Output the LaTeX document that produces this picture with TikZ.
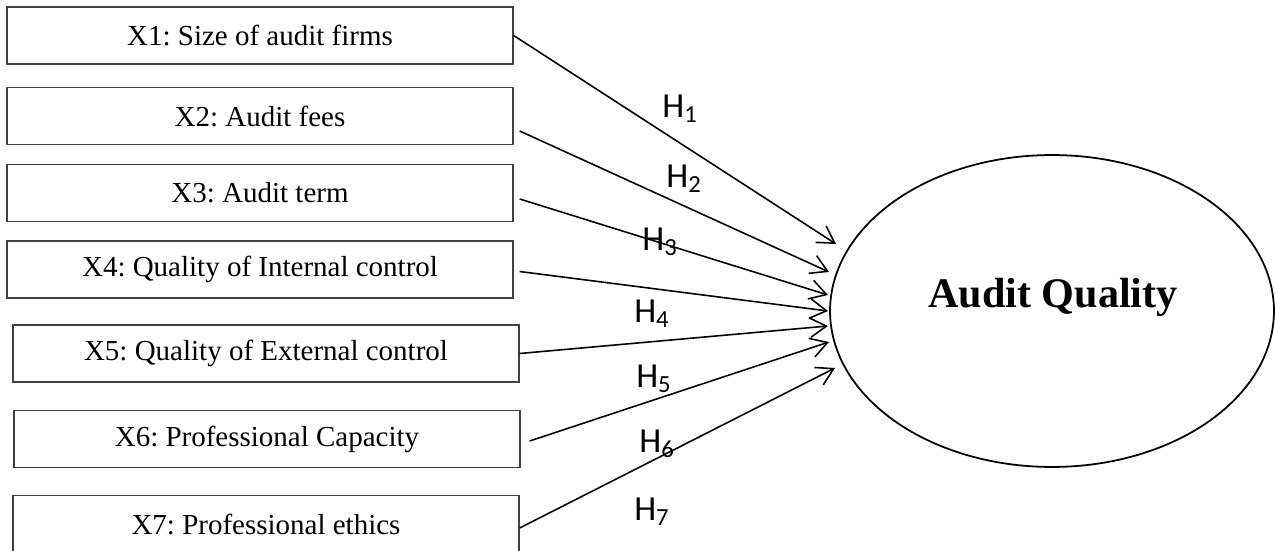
\documentclass[tikz,border=0pt]{standalone}
\usepackage{fontspec}
\setmainfont{Liberation Serif}
\newfontfamily\hfont{Carlito}
\usetikzlibrary{shapes.geometric,arrows.meta}
\frenchspacing

\begin{document}
\begin{tikzpicture}[x=0.02cm,y=-0.02cm,
  varbox/.style={draw=black!75,line width=0.8pt,minimum width=10.12cm,minimum height=1.14cm,inner sep=0pt,font=\fontsize{16.5}{19}\selectfont},
  hyp/.style={line width=0.9pt,-{Straight Barb[length=3.3mm,width=3.9mm]}},
  hlabel/.style={anchor=base west,inner sep=0pt,font=\hfont\fontsize{20}{24}\selectfont}]
\clip (0,0) rectangle (1275,551);
%variables
\node[varbox] (b1) at (260,35.5) {X1: Size of audit firms};
\node[varbox] (b2) at (260,116) {X2: Audit fees};
\node[varbox] (b3) at (260,193) {X3: Audit term};
\node[varbox] (b4) at (260,269.5) {X4: Quality of Internal control};
\node[varbox] (b5) at (266,353.5) {X5: Quality of External control};
\node[varbox] (b6) at (267,439) {X6: Professional Capacity};
\node[varbox] (b7) at (266,524) {X7: Professional ethics};
%audit quality
\node[draw,ellipse,line width=1pt,minimum width=8.88cm,minimum height=6.24cm,inner sep=0pt] (aq) at (1052,311) {};
\node[font=\bfseries\fontsize{24}{28}\selectfont] (aqtext) at (1053,297) {Audit Quality};
%arrow tips
\coordinate (t1) at (836,244);
\coordinate (t2) at (829,272);
\coordinate (t3) at (828,295);
\coordinate (t4) at (828,311);
\coordinate (t5) at (828,326);
\coordinate (t6) at (829,342);
\coordinate (t7) at (835,368);
%hypotheses
\draw[hyp] (b1.east) -- (t1);
\draw[hyp] ([shift={(6,15)}]b2.east) -- (t2);
\draw[hyp] ([shift={(6,6)}]b3.east) -- (t3);
\draw[hyp] ([shift={(6,2)}]b4.east) -- (t4);
\draw[hyp] (b5.east) -- (t5);
\draw[hyp] ([shift={(9,2)}]b6.east) -- (t6);
\draw[hyp] ([shift={(0,4)}]b7.east) -- (t7);
\node[hlabel] (h1) at (662,117) {H\textsubscript{1}};
\node[hlabel] (h2) at (666,187) {H\textsubscript{2}};
\node[hlabel] (h3) at (642,250) {H\textsubscript{3}};
\node[hlabel] (h4) at (634,322) {H\textsubscript{4}};
\node[hlabel] (h5) at (636,387) {H\textsubscript{5}};
\node[hlabel] (h6) at (639,452) {H\textsubscript{6}};
\node[hlabel] (h7) at (634,520) {H\textsubscript{7}};
\end{tikzpicture}
\end{document}
